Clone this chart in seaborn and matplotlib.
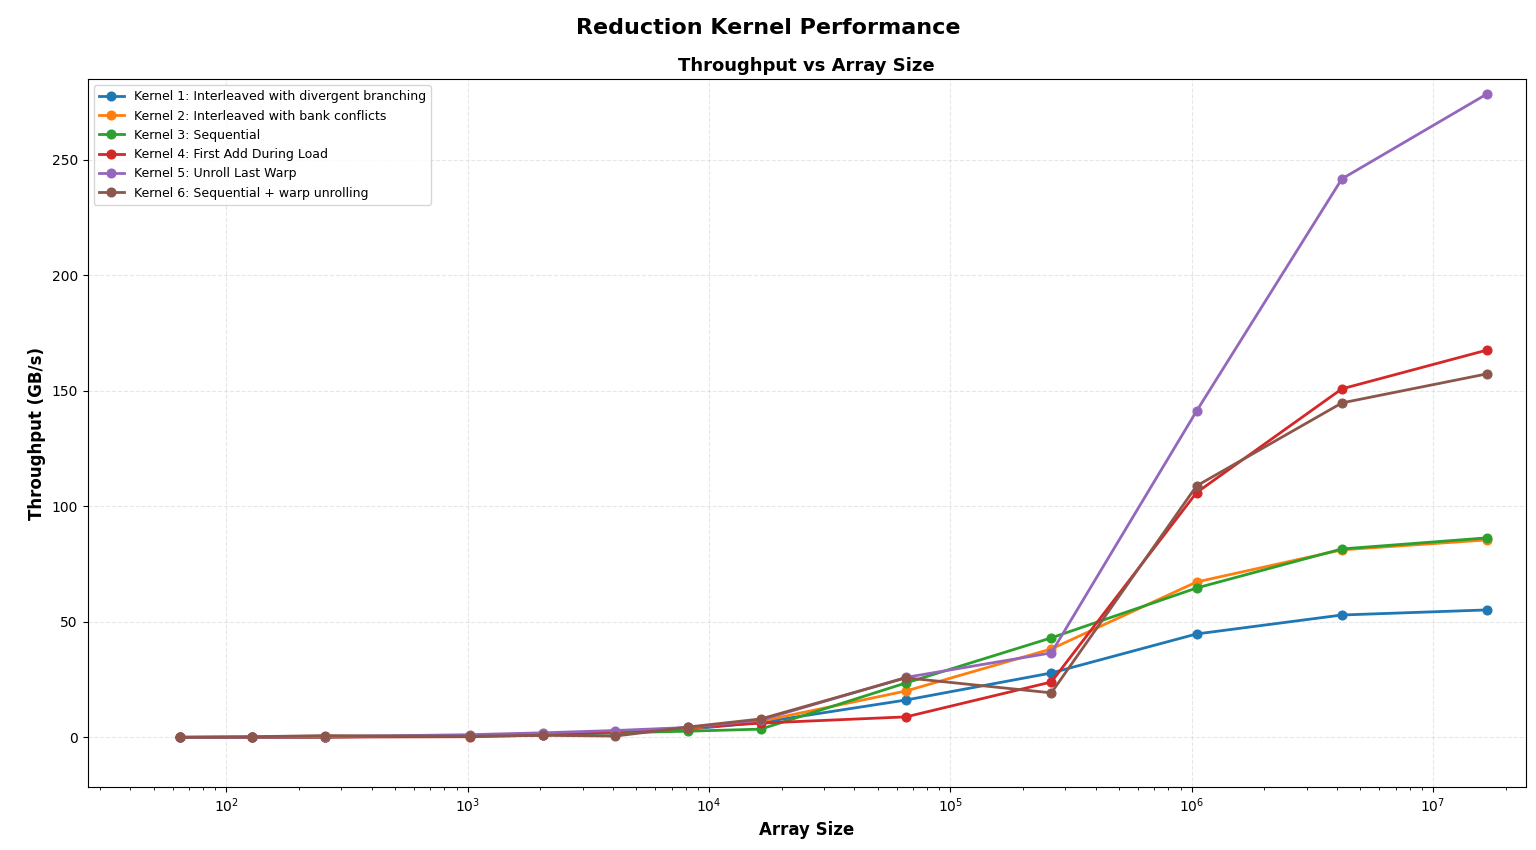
import pandas as pd
import numpy as np
import matplotlib
matplotlib.use('Agg')
import matplotlib.pyplot as plt
import seaborn as sns

# ===== data =====
sizes = [64, 128, 256, 1024, 2048, 4096, 8192, 16384,
         65536, 262144, 1048576, 4194304, 16777216]

kernel_names = [
    "Kernel 1: Interleaved with divergent branching",
    "Kernel 2: Interleaved with bank conflicts",
    "Kernel 3: Sequential",
    "Kernel 4: First Add During Load",
    "Kernel 5: Unroll Last Warp",
    "Kernel 6: Sequential + warp unrolling",
]

k1 = [0.05, 0.1, 0.2, 0.7, 1.2, 2.0, 3.5, 6.5, 16.2, 27.9, 44.8, 53.0, 55.2]
k2 = [0.05, 0.1, 0.2, 0.8, 1.4, 2.3, 3.8, 7.0, 20.1, 38.3, 67.3, 81.2, 85.5]
k3 = [0.05, 0.1, 0.2, 0.8, 1.3, 2.0, 2.7, 3.6, 23.6, 43.1, 64.7, 81.6, 86.4]
k4 = [0.04, 0.08, 0.15, 0.3, 1.0, 2.5, 4.2, 6.2, 8.9, 24.0, 106.0, 150.9, 167.7]
k5 = [0.05, 0.1, 0.3, 1.2, 2.0, 3.0, 4.3, 7.5, 26.0, 36.6, 141.3, 241.8, 278.6]
k6 = [0.05, 0.3, 0.8, 0.5, 0.9, 0.6, 4.5, 8.0, 25.8, 19.3, 108.9, 144.8, 157.4]

series = [k1, k2, k3, k4, k5, k6]
colors = sns.color_palette("tab10", 6)

# long table for seaborn
rows = []
for name, vals in zip(kernel_names, series):
    for s, v in zip(sizes, vals):
        rows.append({"size": s, "throughput": v, "kernel": name})
df = pd.DataFrame(rows)

# ===== plot =====
fig, ax = plt.subplots(figsize=(15.36, 8.5), dpi=100)

for name, c in zip(kernel_names, colors):
    sub = df[df["kernel"] == name]
    sns.lineplot(data=sub, x="size", y="throughput", ax=ax, color=c,
                 marker="o", markersize=6.5, markeredgecolor=c,
                 linewidth=2, label=name)

ax.set_xscale("log")
ax.set_xlim(26.6, 2.43e7)
ax.set_ylim(-21.5, 285)

ax.grid(True, linestyle="--", alpha=0.3)
ax.set_xlabel("Array Size", fontsize=12, fontweight="bold")
ax.set_ylabel("Throughput (GB/s)", fontsize=12, fontweight="bold")
ax.set_title("Throughput vs Array Size", fontsize=13, fontweight="bold")
ax.legend(loc="upper left", fontsize=9)

fig.suptitle("Reduction Kernel Performance", fontsize=16, fontweight="bold", y=0.979)
fig.subplots_adjust(left=0.057, right=0.9935, top=0.907, bottom=0.074)

plt.savefig("out.png", dpi=100)
